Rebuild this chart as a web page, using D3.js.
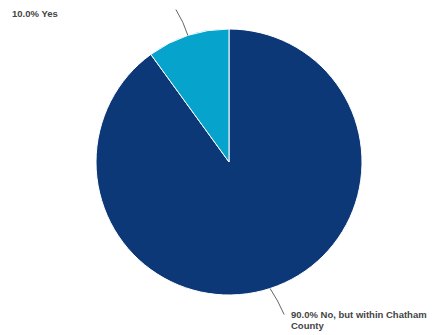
<!DOCTYPE html>
<html>
<head>
<meta charset="utf-8">
<script src="https://cdn.jsdelivr.net/npm/d3@7"></script>
<style>
  html, body { margin: 0; padding: 0; background: #fff; }
  svg { display: block; }
  .lbl { font-family: "Liberation Sans", Arial, sans-serif; font-size: 9.5px; font-weight: bold; fill: #444; }
</style>
</head>
<body>
<svg id="chart" width="432" height="335"></svg>
<script>
// Survey answers and their shares
const categories = ["No, but within Chatham County", "Yes"];
const values = [90.0, 10.0];
const colors = ["#0c3877", "#06a3cc"];
const labelLines = [["90.0% No, but within Chatham", "County"], ["10.0% Yes"]];

const svg = d3.select("#chart");
const cx = 229, cy = 162, r = 133;

const pie = d3.pie().sort(null).value(d => d)(values);
const arc = d3.arc().innerRadius(0).outerRadius(r);

const g = svg.append("g").attr("transform", `translate(${cx},${cy})`);

g.selectAll("path.slice")
  .data(pie)
  .join("path")
  .attr("class", "slice")
  .attr("d", arc)
  .attr("fill", (d, i) => colors[i])
  .attr("stroke", "#fff")
  .attr("stroke-width", 1);

// Leader lines: start at the arc midpoint, bend outward toward the label
const leaderOffsets = [
  { ctrl: [8, 12], end: [14, 26] },   // No: goes down-right
  { ctrl: [-4, -13], end: [-12, -26] } // Yes: goes up-left
];
const labelPos = [
  { x: 291, y: 318 },
  { x: 12, y: 17 }
];

pie.forEach((d, i) => {
  const a = (d.startAngle + d.endAngle) / 2;
  const sx = Math.sin(a) * r, sy = -Math.cos(a) * r;
  const o = leaderOffsets[i];
  const p = d3.path();
  p.moveTo(sx, sy);
  p.quadraticCurveTo(sx + o.ctrl[0], sy + o.ctrl[1], sx + o.end[0], sy + o.end[1]);
  g.append("path")
    .attr("d", p.toString())
    .attr("fill", "none")
    .attr("stroke", "#666")
    .attr("stroke-width", 1);

  const t = svg.append("text")
    .attr("class", "lbl")
    .attr("x", labelPos[i].x)
    .attr("y", labelPos[i].y);
  labelLines[i].forEach((line, j) => {
    t.append("tspan")
      .attr("x", labelPos[i].x)
      .attr("dy", j === 0 ? 0 : 11)
      .text(line);
  });
});
</script>
</body>
</html>
